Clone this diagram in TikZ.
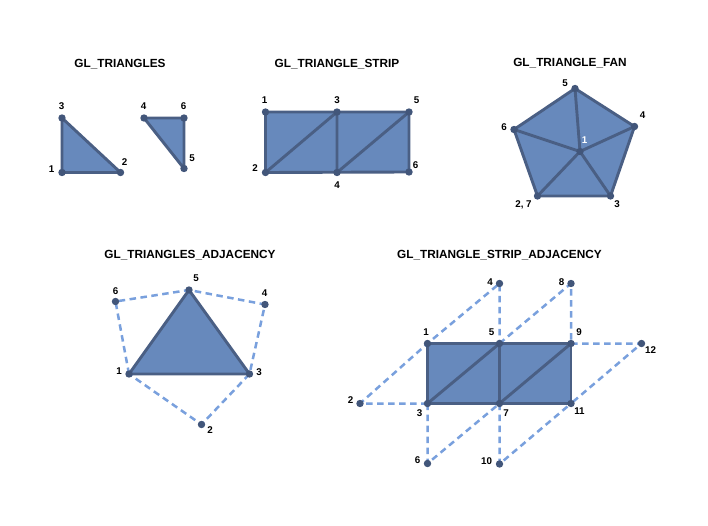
\documentclass[tikz,border=0pt]{standalone}
\usepackage{fontspec}
\setmainfont{Liberation Sans}
\begin{document}
\begin{tikzpicture}[x=1pt,y=-1pt,
  face/.style={fill=facecol},
  edge/.style={draw=edgecol,line width=2.9pt,line join=round,line cap=round},
  adj/.style={draw=adjcol,line width=2.5pt,dash pattern=on 6.5pt off 4.5pt},
  title/.style={font=\fontsize{11.8}{13}\selectfont\bfseries,inner sep=0pt},
  num/.style={font=\fontsize{9.8}{10}\selectfont\bfseries,inner sep=0pt},
  dotc/.style={fill=dotcol,draw=none}]
\definecolor{facecol}{HTML}{6789BC}
\definecolor{edgecol}{HTML}{4A5F84}
\definecolor{dotcol}{HTML}{42567A}
\definecolor{adjcol}{HTML}{79A0DD}
\useasboundingbox[fill=white] (0,0) rectangle (708,526);
\newcommand{\vdot}[1]{\fill[dotc] (#1) circle (3.7pt);}
% ---------- GL_TRIANGLES
\node[title] (t1) at (120,64) {GL\_TRIANGLES};
\coordinate (a1) at (62,172.5);
\coordinate (a2) at (120.5,172.5);
\coordinate (a3) at (62,118);
\coordinate (a4) at (144,118);
\coordinate (a5) at (184,168.5);
\coordinate (a6) at (184,118);
\filldraw[face,edge] (a1) -- (a2) -- (a3) -- cycle;
\filldraw[face,edge] (a4) -- (a5) -- (a6) -- cycle;
\foreach \p in {a1,a2,a3,a4,a5,a6} {\vdot{\p}}
\node[num] (la1) at (51.5,169) {1};
\node[num] (la2) at (124.5,162) {2};
\node[num] (la3) at (61.5,106.5) {3};
\node[num] (la4) at (143.5,106.5) {4};
\node[num] (la5) at (192,158.5) {5};
\node[num] (la6) at (183.5,106.5) {6};
% ---------- GL_TRIANGLE_STRIP
\node[title] (t2) at (337,64) {GL\_TRIANGLE\_STRIP};
\coordinate (b1) at (265.5,112);
\coordinate (b2) at (265.5,172.5);
\coordinate (b3) at (337,112);
\coordinate (b4) at (337,172.5);
\coordinate (b5) at (409,112);
\coordinate (b6) at (409,172);
\fill[face] (b1) -- (b5) -- (b6) -- (b2) -- cycle;
\draw[edge] (b1) -- (b5) -- (b6) -- (b2) -- cycle;
\draw[edge] (b2) -- (b3) -- (b4) -- (b5);
\foreach \p in {b1,b2,b3,b4,b5,b6} {\vdot{\p}}
\node[num] (lb1) at (264.5,100.5) {1};
\node[num] (lb2) at (255,168.5) {2};
\node[num] (lb3) at (337,100.5) {3};
\node[num] (lb4) at (337,185) {4};
\node[num] (lb5) at (416.5,100.5) {5};
\node[num] (lb6) at (415.5,165) {6};
% ---------- GL_TRIANGLE_FAN
\node[title] (t3) at (570,63.5) {GL\_TRIANGLE\_FAN};
\coordinate (c1) at (580,151.5);
\coordinate (c2) at (537.5,196);
\coordinate (c3) at (610.5,196);
\coordinate (c4) at (634.5,126.5);
\coordinate (c5) at (575,88.5);
\coordinate (c6) at (514,129.5);
\fill[face] (c2) -- (c3) -- (c4) -- (c5) -- (c6) -- cycle;
\draw[edge] (c2) -- (c3) -- (c4) -- (c5) -- (c6) -- cycle;
\foreach \p in {c2,c3,c4,c5,c6} {\draw[edge] (c1) -- (\p);}
\foreach \p in {c1,c2,c3,c4,c5,c6} {\vdot{\p}}
\node[num,text=white] (lc1) at (584.5,140.5) {1};
\node[num] (lc2) at (523.5,205) {2, 7};
\node[num] (lc3) at (617,204.5) {3};
\node[num] (lc4) at (642.5,115.5) {4};
\node[num] (lc5) at (565,83.5) {5};
\node[num] (lc6) at (504,127) {6};
% ---------- GL_TRIANGLES_ADJACENCY
\node[title] (t4) at (190,255.5) {GL\_TRIANGLES\_ADJACENCY};
\coordinate (d1) at (129,374);
\coordinate (d2) at (201.5,424.5);
\coordinate (d3) at (249.5,374);
\coordinate (d4) at (265,304.5);
\coordinate (d5) at (189,290);
\coordinate (d6) at (115.5,301.5);
\draw[adj] (d1) -- (d6) -- (d5) -- (d4) -- (d3) -- (d2) -- (d1);
\filldraw[face,edge] (d1) -- (d3) -- (d5) -- cycle;
\foreach \p in {d1,d2,d3,d4,d5,d6} {\vdot{\p}}
\node[num] (ld1) at (119,371.5) {1};
\node[num] (ld2) at (210,430) {2};
\node[num] (ld3) at (259,372.5) {3};
\node[num] (ld4) at (264.5,293) {4};
\node[num] (ld5) at (196,278.5) {5};
\node[num] (ld6) at (115.5,291) {6};
% ---------- GL_TRIANGLE_STRIP_ADJACENCY
\node[title] (t5) at (499.5,255.5) {GL\_TRIANGLE\_STRIP\_ADJACENCY};
\coordinate (e1) at (427.5,343.5);
\coordinate (e2) at (360,403.5);
\coordinate (e3) at (427.5,403.5);
\coordinate (e4) at (499.5,283.5);
\coordinate (e5) at (499.5,343.5);
\coordinate (e6) at (427.5,463.5);
\coordinate (e7) at (499.5,403.5);
\coordinate (e8) at (571,283.5);
\coordinate (e9) at (571,343.5);
\coordinate (e10) at (499.5,464);
\coordinate (e11) at (571,403.5);
\coordinate (e12) at (641.5,343.5);
\draw[adj] (e3) -- (e2) -- (e1) -- (e4) -- (e5);
\draw[adj] (e5) -- (e8) -- (e9);
\draw[adj] (e9) -- (e12) -- (e11);
\draw[adj] (e3) -- (e6) -- (e7);
\draw[adj] (e7) -- (e10) -- (e11);
\fill[face] (e1) -- (e9) -- (e11) -- (e3) -- cycle;
\draw[edge] (e1) -- (e9) -- (e11) -- (e3) -- cycle;
\draw[edge] (e3) -- (e5) -- (e7) -- (e9);
\foreach \p in {e1,e2,e3,e4,e5,e6,e7,e8,e9,e10,e11,e12} {\vdot{\p}}
\node[num] (le1) at (426,332.5) {1};
\node[num] (le2) at (350.5,400) {2};
\node[num] (le3) at (419.5,413.5) {3};
\node[num] (le4) at (490,282.5) {4};
\node[num] (le5) at (491.5,332.5) {5};
\node[num] (le6) at (417.5,460) {6};
\node[num] (le7) at (506,413.5) {7};
\node[num] (le8) at (561.5,282.5) {8};
\node[num] (le9) at (579,332.5) {9};
\node[num] (le10) at (486.5,461.5) {10};
\node[num] (le11) at (579.5,411.5) {11};
\node[num] (le12) at (650.5,350) {12};
\end{tikzpicture}
\end{document}
